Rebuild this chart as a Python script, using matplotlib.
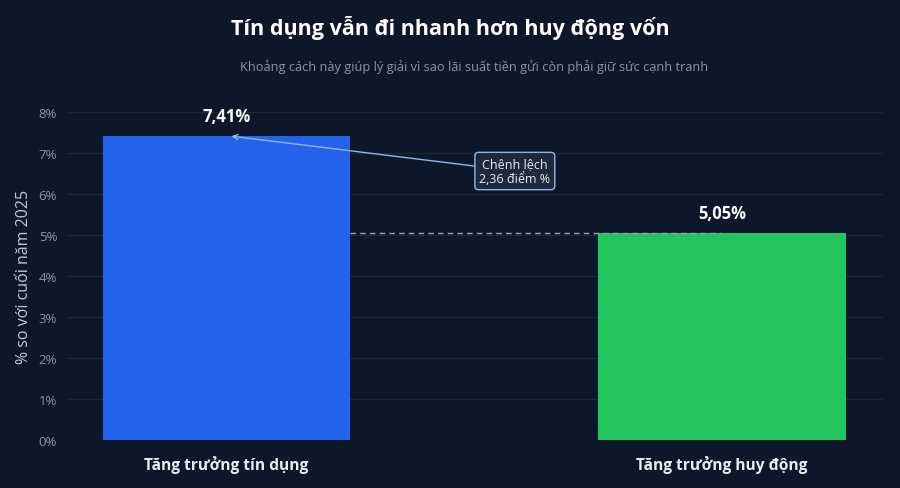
import matplotlib
matplotlib.use("Agg")
import matplotlib.pyplot as plt

plt.rcParams['font.family'] = ['Open Sans', 'Noto Sans', 'DejaVu Sans']

categories = ["Tăng trưởng tín dụng", "Tăng trưởng huy động"]
values = [7.41, 5.05]
value_labels = ["7,41%", "5,05%"]
colors = ["#2563eb", "#22c55e"]
yticks = [0, 1, 2, 3, 4, 5, 6, 7, 8]
ytick_labels = [f"{v}%" for v in yticks]
gap_label = "Chênh lệch\n2,36 điểm %"

bg = "#0c1729"
fig = plt.figure(figsize=(9, 4.89), dpi=100, facecolor=bg)
ax = fig.add_axes([0.0744, 0.0982, 0.9066, 0.6708], facecolor=bg)

x = list(range(len(categories)))
ax.bar(x, values, width=0.5, color=colors, zorder=3)

ax.set_xlim(-0.322, 1.325)
ax.set_ylim(0, 8)
ax.set_yticks(yticks)
ax.set_yticklabels(ytick_labels, color="#8b95a5", fontsize=9.5)
ax.set_xticks(x)
ax.set_xticklabels(categories, color="#e8edf3", fontsize=11.2, fontweight="bold")
ax.tick_params(axis="both", length=0)
ax.tick_params(axis="y", pad=7)
ax.tick_params(axis="x", pad=11)
for s in ax.spines.values():
    s.set_visible(False)
ax.grid(axis="y", color="#1c2838", linewidth=0.9, zorder=0)
ax.set_axisbelow(True)
ax.set_ylabel("% so với cuối năm 2025", color="#c3cad4", fontsize=11.5, labelpad=5)

for xi, v, lab in zip(x, values, value_labels):
    ax.annotate(lab, (xi, v), xytext=(0, 8), textcoords="offset points",
                ha="center", va="bottom", color="white", fontsize=12,
                fontweight="bold", zorder=5)

# dashed reference line at second value level
ax.plot([x[0] + 0.25, x[1]], [values[1], values[1]], linestyle=(0, (4, 3)),
        color="#9aa6b6", linewidth=1, zorder=4)

ax.annotate(gap_label, xy=(x[0] + 0.01, values[0]), xytext=(0.582, 6.56),
            ha="center", va="center", color="#e8edf3", fontsize=9,
            linespacing=1.15,
            bbox=dict(boxstyle="round,pad=0.35,rounding_size=0.3",
                      fc="#1d2a3d", ec="#8fb8e8", lw=1),
            arrowprops=dict(arrowstyle="->", color="#8fb8e8", lw=1,
                            shrinkA=0, shrinkB=0),
            zorder=6)

fig.text(0.5, 0.943, "Tín dụng vẫn đi nhanh hơn huy động vốn", ha="center",
         va="center", color="white", fontsize=15.5, fontweight="bold")
fig.text(0.527, 0.862,
         "Khoảng cách này giúp lý giải vì sao lãi suất tiền gửi còn phải giữ sức cạnh tranh",
         ha="center", va="center", color="#8b95a5", fontsize=9.2)

fig.savefig("out.png", dpi=100, facecolor=bg)
